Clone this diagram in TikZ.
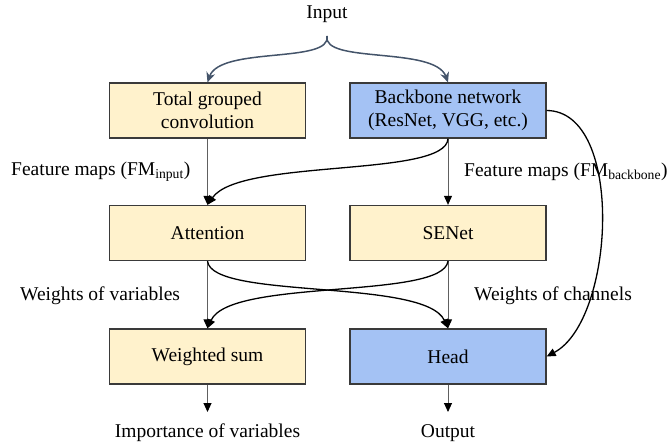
\documentclass[tikz,border=0pt]{standalone}
\usepackage{fontspec}
\setmainfont{Liberation Serif}
\usetikzlibrary{arrows.meta}
\definecolor{boxyellow}{HTML}{FFF2CC}
\definecolor{boxblue}{HTML}{A4C2F4}
\definecolor{boxborder}{HTML}{3A3A3A}
\definecolor{slate}{HTML}{44546A}
\definecolor{thingray}{HTML}{606060}
\begin{document}
\begin{tikzpicture}[x=1pt,y=-1pt,
  every node/.style={font=\fontsize{19.5}{23.5}\selectfont},
  blk/.style={draw=boxborder,line width=1.3pt,minimum width=196pt,minimum height=55pt,inner sep=0pt,align=center},
  yel/.style={blk,fill=boxyellow},
  blu/.style={blk,fill=boxblue},
  lbl/.style={inner sep=0pt,anchor=west},
  thin/.style={draw=thingray,line width=0.9pt,-{Triangle[length=9pt,width=8pt,black]}},
  curv/.style={draw=black,line width=1.3pt,-{Triangle[length=9pt,width=8pt,black]}},
  brace/.style={draw=slate,line width=1.5pt,-{Stealth[length=10pt,width=9pt]}}]
\useasboundingbox (0,0) rectangle (668,444);
\node[inner sep=0pt] (in) at (327,14) {Input};
\coordinate (br) at (327,36);
\node[yel] (tgc) at (207.5,110.5) {Total grouped\\convolution};
\node[blu] (bb) at (448,110.5) {Backbone network\\(ResNet, VGG, etc.)};
\node[yel] (att) at (207.5,233) {Attention};
\node[yel] (se) at (448,233) {SENet};
\node[yel] (ws) at (207.5,356.5) {Weighted sum};
\node[blu] (head) at (448,356.5) {Head};
\node[lbl] (fmi) at (11,172) {Feature maps (FM\textsubscript{input})};
\node[lbl] (fmb) at (464,172) {Feature maps (FM\textsubscript{backbone})};
\node[lbl] (wv) at (20,296) {Weights of variables};
\node[lbl] (wc) at (474,296) {Weights of channels};
\node[inner sep=0pt] (imp) at (207.5,433) {Importance of variables};
\node[inner sep=0pt] (out) at (448,433) {Output};
\coordinate (impa) at (207.5,412);
\coordinate (outa) at (448,412);
% brace arrows
\draw[brace] (br) .. controls (332,64) and (220,46) .. (tgc.north);
\draw[brace] (br) .. controls (322,64) and (435,46) .. (bb.north);
% thin straight
\draw[thin] (tgc.south) -- (att.north);
\draw[thin] (bb.south) -- (se.north);
\draw[thin] (att.south) -- (ws.north);
\draw[thin] (se.south) -- (head.north);
\draw[thin] (ws.south) -- (impa);
\draw[thin] (head.south) -- (outa);
% curves
\draw[curv] (bb.south) .. controls (446,178) and (240,158) .. (att.north);
\draw[curv] (att.south) .. controls (212,300) and (425,278) .. (head.north);
\draw[curv] (se.south) .. controls (443,300) and (230,278) .. (ws.north);
\draw[curv] (bb.east) .. controls (625,111) and (615,320) .. (head.east);
\end{tikzpicture}
\end{document}
